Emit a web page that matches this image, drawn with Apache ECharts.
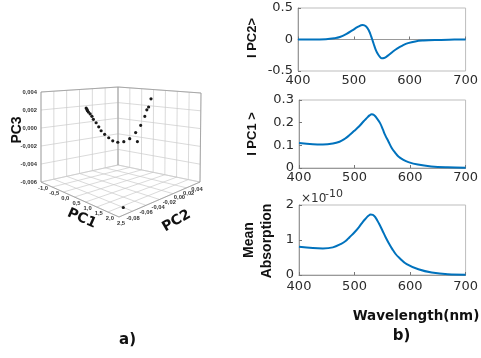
<!DOCTYPE html>
<html><head><meta charset="utf-8">
<script src="https://cdn.jsdelivr.net/npm/echarts@6/dist/echarts.min.js"></script>
<style>html,body{margin:0;padding:0;background:#fff}#c{width:481px;height:358px}</style>
</head><body><div id="c"></div>
<script>
// ---------- panel b) data ----------
const xTicks = [400, 500, 600, 700];
const pc2Wl  = [400,425,450,465,475,487,498,507,516,522,527,531,534,537,540,543,547,550,554,558,564,570,578,587,597,610,625,645,670,700];
const pc2Val = [0,0,0.005,0.02,0.04,0.09,0.15,0.2,0.229,0.205,0.14,0.05,-0.03,-0.11,-0.18,-0.23,-0.28,-0.298,-0.293,-0.275,-0.235,-0.19,-0.14,-0.096,-0.058,-0.03,-0.016,-0.007,-0.002,0];
const pc1Wl  = [400,425,443,461,473,482,490,499,508,516,522,527,531,535,540,546,551,555,561,567,573,579,588,597,614,638,667,700];
const pc1Val = [0.110,0.105,0.104,0.108,0.116,0.128,0.143,0.163,0.183,0.205,0.220,0.232,0.237,0.234,0.22,0.198,0.17,0.146,0.117,0.088,0.068,0.051,0.036,0.026,0.015,0.007,0.003,0.0015];
const absWl  = [400,425,443,461,476,484,491,500,508,515,520,525,529,533,537,544,550,556,562,568,574,580,594,615,639,668,700];
const absVal = [0.81,0.77,0.76,0.79,0.89,0.97,1.08,1.22,1.37,1.52,1.61,1.69,1.73,1.72,1.66,1.47,1.28,1.08,0.9,0.74,0.6,0.5,0.31,0.165,0.07,0.02,0.01]; // x 1e-10

// ---------- panel a) data ----------
const pc1Score = [0.01,0.03,0.04,0.06,0.10,0.14,0.17,0.23,0.29,0.34,0.42,0.51,0.60,0.71,0.84,0.97,1.10,1.14,1.21,1.30,1.34,1.38,1.43,2.15];
const pc2Score = [-0.0453,-0.0448,-0.0444,-0.0436,-0.0423,-0.0410,-0.0398,-0.0377,-0.0358,-0.0339,-0.0313,-0.0282,-0.0252,-0.0214,-0.0168,-0.0124,-0.0080,-0.0067,-0.0043,-0.0013,0.0003,0.0015,0.0033,-0.062];
const pc3Score = [0.00260,0.00245,0.00231,0.00216,0.00197,0.00171,0.00138,0.00101,0.00057,0.00014,-0.00024,-0.00061,-0.00094,-0.00110,-0.00104,-0.00071,-0.00004,-0.00104,0.00076,0.00175,0.00246,0.00277,0.00367,-0.0059];
const pc1Ticks = [-1.0,-0.5,0,0.5,1.0,1.5,2.0,2.5];
const pc2Ticks = [-0.08,-0.06,-0.04,-0.02,0,0.02,0.04];
const pc3Ticks = [-0.006,-0.004,-0.002,0,0.002,0.004];
const pc1TickLabels = ['-1,0','-0,5','0,0','0,5','1,0','1,5','2,0','2,5'];
const pc2TickLabels = ['-0,08','-0,06','-0,04','-0,02','0,00','0,02','0,04'];
const pc3TickLabels = ['-0,006','-0,004','-0,002','0,000','0,002','0,004'];

// ---------- 3D box projection (layout) ----------
const R1 = [-1, 2.5], R2 = [-0.08, 0.04], R3 = [-0.006, 0.004];
const BOX = { L:[41,182], F:[119,217], B:[118,165], R:[200,182],
              Lt:[41,92], Ft:[119,113], Bt:[118,87], Rt:[201,93] };
function bil(p00,p10,p01,p11,a,b){
  const w00=(1-a)*(1-b), w10=a*(1-b), w01=(1-a)*b, w11=a*b;
  return [w00*p00[0]+w10*p10[0]+w01*p01[0]+w11*p11[0], w00*p00[1]+w10*p10[1]+w01*p01[1]+w11*p11[1]];
}
function proj(x1,x2,x3){
  const a=(x1-R1[0])/(R1[1]-R1[0]), b=(x2-R2[0])/(R2[1]-R2[0]), c=(x3-R3[0])/(R3[1]-R3[0]);
  const lo=bil(BOX.L,BOX.F,BOX.B,BOX.R,a,b), hi=bil(BOX.Lt,BOX.Ft,BOX.Bt,BOX.Rt,a,b);
  return [lo[0]+(hi[0]-lo[0])*c, lo[1]+(hi[1]-lo[1])*c];
}
const GRIDC='#cacaca', EDGEC='#9a9a9a', TICKC='#333';
function wallsRender(params, api){
  const ch=[];
  const P=(u,v,w)=>api.coord(proj(u,v,w));
  const seg=(p,q,c,w)=>ch.push({type:'line',shape:{x1:p[0],y1:p[1],x2:q[0],y2:q[1]},style:{stroke:c,lineWidth:w}});
  const [a0,a1]=R1,[b0,b1]=R2,[c0,c1]=R3;
  pc1Ticks.forEach(t=>seg(P(t,b0,c0),P(t,b1,c0),GRIDC,0.7));
  pc2Ticks.forEach(t=>seg(P(a0,t,c0),P(a1,t,c0),GRIDC,0.7));
  pc2Ticks.forEach(t=>seg(P(a0,t,c0),P(a0,t,c1),GRIDC,0.7));
  pc3Ticks.forEach(t=>seg(P(a0,b0,t),P(a0,b1,t),GRIDC,0.7));
  pc1Ticks.forEach(t=>seg(P(t,b1,c0),P(t,b1,c1),GRIDC,0.7));
  pc3Ticks.forEach(t=>seg(P(a0,b1,t),P(a1,b1,t),GRIDC,0.7));
  [[a0,b0],[a0,b1],[a1,b1]].forEach(([u,v])=>seg(P(u,v,c0),P(u,v,c1),EDGEC,0.8));
  seg(P(a0,b0,c1),P(a0,b1,c1),EDGEC,0.8); seg(P(a0,b1,c1),P(a1,b1,c1),EDGEC,0.8);
  seg(P(a0,b0,c0),P(a1,b0,c0),EDGEC,0.8); seg(P(a1,b0,c0),P(a1,b1,c0),EDGEC,0.8);
  const txt=(s,x,y,al)=>ch.push({type:'text',style:{text:s,x:x,y:y,fill:TICKC,fontSize:5.8,fontFamily:'Liberation Sans',fontWeight:'bold',align:al,verticalAlign:'middle'}});
  pc3Ticks.forEach((t,i)=>{const p=P(a0,b0,t); txt(pc3TickLabels[i],p[0]-4,p[1],'right');});
  pc1Ticks.forEach((t,i)=>{const p=P(t,b0,c0); txt(pc1TickLabels[i],p[0]+2,p[1]+6,'center');});
  pc2Ticks.forEach((t,i)=>{const b=(t-b0)/(b1-b0); const p=P(a1,t,c0); txt(pc2TickLabels[i],p[0]+14-17*b*b,p[1]+1+6.3*b*b,'center');});
  return {type:'group',children:ch};
}
function pointRender(params, api){
  const p=api.coord(proj(api.value(0),api.value(1),api.value(2)));
  return {type:'circle',shape:{cx:p[0],cy:p[1],r:1.6},style:{fill:'#1a1a1a'}};
}

// ---------- chart ----------
const LINEC='#0072BD';
const FONT='DejaVu Sans';
function xAx(gi,mg){return {type:'value',gridIndex:gi,min:400,max:700,interval:100,
  axisLine:{show:true,lineStyle:{color:'#999',width:1}},axisTick:{show:true,inside:true,length:3,lineStyle:{color:'#777'}},
  axisLabel:{color:'#2b2b2b',fontSize:13,fontFamily:FONT,margin:mg,showMinLabel:true,showMaxLabel:true,
    customValues:xTicks},splitLine:{show:false}};}
function yAx(gi,mn,mx,iv){return {type:'value',gridIndex:gi,min:mn,max:mx,interval:iv,
  axisLine:{show:true,lineStyle:{color:'#999',width:1}},axisTick:{show:true,inside:true,length:3,lineStyle:{color:'#777'}},
  axisLabel:{color:'#2b2b2b',fontSize:13,fontFamily:FONT,margin:5},splitLine:{show:false}};}
const gridBox={show:true,borderColor:'#bdbdbd',borderWidth:1,backgroundColor:'transparent'};
function lineSeries(i,xs,ys){return {type:'line',xAxisIndex:i,yAxisIndex:i,data:xs.map((x,k)=>[x,ys[k]]),
  smooth:0.4,showSymbol:false,lineStyle:{color:LINEC,width:2},silent:true};}

const chart=echarts.init(document.getElementById('c'),null,{renderer:'canvas'});
const boldTxt=(s,x,y,size,rot,fam)=>({type:'text',x:x,y:y,rotation:rot||0,silent:true,
  style:{text:s,fill:'#111',fontSize:size,fontWeight:'bold',fontFamily:fam||FONT,align:'center',verticalAlign:'middle'}});
chart.setOption({
  animation:false,
  backgroundColor:'#fff',
  grid:[
    Object.assign({left:298,top:8,width:169,height:63},gridBox),
    Object.assign({left:299,top:100,width:169,height:68},gridBox),
    Object.assign({left:299,top:205,width:169,height:70},gridBox),
    {left:0,top:0,width:240,height:358,show:false}
  ],
  xAxis:[xAx(0,3),xAx(1,3),xAx(2,5),{type:'value',gridIndex:3,min:0,max:240,show:false}],
  yAxis:[yAx(0,-0.5,0.5,0.5),yAx(1,0,0.3,0.1),yAx(2,0,2,1),{type:'value',gridIndex:3,min:0,max:358,inverse:true,show:false}],
  series:[
    lineSeries(0,pc2Wl,pc2Val),
    lineSeries(1,pc1Wl,pc1Val),
    lineSeries(2,absWl,absVal),
    {type:'custom',xAxisIndex:3,yAxisIndex:3,data:[[0,0]],renderItem:wallsRender,silent:true,z:1,clip:false},
    {type:'custom',xAxisIndex:3,yAxisIndex:3,data:pc1Score.map((v,i)=>[v,pc2Score[i],pc3Score[i]]),
      dimensions:['pc1','pc2','pc3'],encode:{x:0,y:1},renderItem:pointRender,silent:true,z:2,clip:false}
  ],
  graphic:[
    boldTxt('I PC2>',252,38,13,Math.PI/2,'Liberation Sans'),
    boldTxt('I PC1 >',252.5,134,13,Math.PI/2,'Liberation Sans'),
    boldTxt('Mean',249,240,14,Math.PI/2,'Liberation Sans'),
    boldTxt('Absorption',267,241,14,Math.PI/2,'Liberation Sans'),
    {type:'text',x:301,y:199,silent:true,style:{text:'\u00d710',fill:'#333',fontSize:12,fontFamily:FONT,align:'left',verticalAlign:'middle'}},
    {type:'text',x:325,y:194,silent:true,style:{text:'-10',fill:'#333',fontSize:11,fontFamily:FONT,align:'left',verticalAlign:'middle'}},
    boldTxt('Wavelength(nm)',416,316,13.5,0),
    boldTxt('b)',401.5,336.5,15,0),
    boldTxt('a)',127.5,340,15,0),
    boldTxt('PC3',17,130,14,Math.PI/2,'Liberation Sans'),
    boldTxt('PC1',81.7,218.5,14,-24*Math.PI/180),
    boldTxt('PC2',176.5,221,14,30*Math.PI/180)
  ]
});
</script></body></html>
